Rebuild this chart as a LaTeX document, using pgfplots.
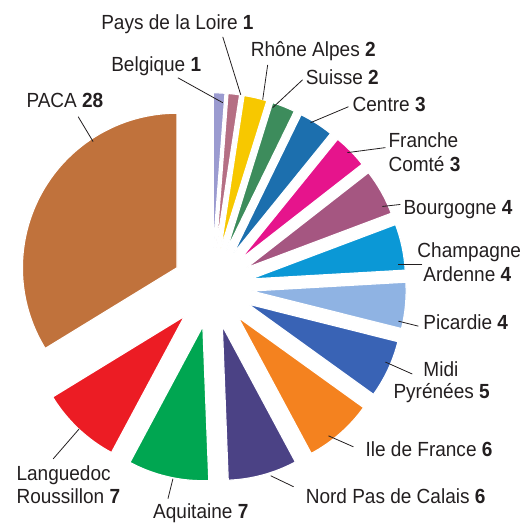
\documentclass[border=0pt]{standalone}
\usepackage{pgfplots}
\pgfplotsset{compat=1.18}
\usepackage{pgfplotstable}
\usepackage{fontspec}
\setmainfont{Liberation Sans}[FakeStretch=0.93]
\usetikzlibrary{calc}
\definecolor{cBel}{HTML}{9B9BD0}
\definecolor{cPdl}{HTML}{B56F84}
\definecolor{cRha}{HTML}{F7C800}
\definecolor{cSui}{HTML}{3D8C5C}
\definecolor{cCen}{HTML}{1C6FAE}
\definecolor{cFra}{HTML}{E6148C}
\definecolor{cBou}{HTML}{A55681}
\definecolor{cCha}{HTML}{0B98D6}
\definecolor{cPic}{HTML}{8FB3E3}
\definecolor{cMid}{HTML}{3963B5}
\definecolor{cIdf}{HTML}{F4821F}
\definecolor{cNor}{HTML}{4B4285}
\definecolor{cAqu}{HTML}{00A651}
\definecolor{cLan}{HTML}{EC1C24}
\definecolor{cPac}{HTML}{C0723C}
\definecolor{txt}{HTML}{231F20}
\pgfplotstableread[col sep=comma]{
name,value,col
Belgique,1,cBel
Pays de la Loire,1,cPdl
Rhône Alpes,2,cRha
Suisse,2,cSui
Centre,3,cCen
Franche Comté,3,cFra
Bourgogne,4,cBou
Champagne Ardenne,4,cCha
Picardie,4,cPic
Midi Pyrénées,5,cMid
Ile de France,6,cIdf
Nord Pas de Calais,6,cNor
Aquitaine,7,cAqu
Languedoc Roussillon,7,cLan
PACA,28,cPac
}\piedata
\begin{document}
\begin{tikzpicture}[lab/.style={anchor=base west, inner sep=0pt, font=\fontsize{20.5}{24}\selectfont, text=txt}]
\begin{axis}[x=1pt, y=1pt, xmin=0, xmax=520, ymin=0, ymax=525, y dir=reverse,
  hide axis, clip=false, scale only axis]
\path (axis cs:0,0) rectangle (axis cs:520,525);
\pgfplotsextra{
  \pgfplotstablegetrowsof{\piedata}\pgfmathtruncatemacro{\pieN}{\pgfplotsretval-1}
  \gdef\pieTot{0}
  \foreach \i in {0,...,\pieN}{%
    \pgfplotstablegetelem{\i}{value}\of\piedata
    \pgfmathsetmacro{\pieT}{\pieTot+\pgfplotsretval}\xdef\pieTot{\pieT}}
  \gdef\pieA{90}
  \foreach \i in {0,...,\pieN}{%
    \pgfplotstablegetelem{\i}{value}\of\piedata \edef\pieV{\pgfplotsretval}
    \pgfplotstablegetelem{\i}{col}\of\piedata \edef\pieC{\pgfplotsretval}
    \pgfmathsetmacro{\pieB}{\pieA-\pieV/\pieTot*360}
    \pgfmathsetmacro{\pieM}{(\pieA+\pieB)/2}
    \fill[\pieC, draw=white, line width=1.2pt] ($(axis cs:206,288)+(\pieM:40pt)$) -- ++(\pieA:155pt)
      arc[start angle=\pieA, end angle=\pieB, radius=155pt] -- cycle;
    \xdef\pieA{\pieB}
  }
}
\begin{scope}[line width=0.8pt, txt]
\draw (axis cs:217,37) -- (axis cs:235,95);
\draw (axis cs:172,78) -- (axis cs:217,103);
\draw (axis cs:262,65) -- (axis cs:257,100);
\draw (axis cs:297,80) -- (axis cs:267,108);
\draw (axis cs:343,107) -- (axis cs:305,123);
\draw (axis cs:380,148) -- (axis cs:342,153);
\draw (axis cs:395,205) -- (axis cs:377,207);
\draw (axis cs:417,265) -- (axis cs:393,265);
\draw (axis cs:413,327) -- (axis cs:393,322);
\draw (axis cs:407,375) -- (axis cs:380,363);
\draw (axis cs:348,448) -- (axis cs:323,437);
\draw (axis cs:288,488) -- (axis cs:265,477);
\draw (axis cs:162,500) -- (axis cs:167,480);
\draw (axis cs:47,460) -- (axis cs:73,430);
\draw (axis cs:72,117) -- (axis cs:87,142);
\end{scope}
\node[lab] at (axis cs:95,30) {Pays de la Loire \textbf{1}};
\node[lab] at (axis cs:105,72) {Belgique \textbf{1}};
\node[lab] at (axis cs:245,57) {Rhône Alpes \textbf{2}};
\node[lab] at (axis cs:300,85) {Suisse \textbf{2}};
\node[lab] at (axis cs:347,112) {Centre \textbf{3}};
\node[lab] at (axis cs:383,148) {Franche};
\node[lab] at (axis cs:383,172) {Comté \textbf{3}};
\node[lab] at (axis cs:398,215) {Bourgogne \textbf{4}};
\node[lab] at (axis cs:412,258) {Champagne};
\node[lab] at (axis cs:418,282) {Ardenne \textbf{4}};
\node[lab] at (axis cs:418,330) {Picardie \textbf{4}};
\node[lab] at (axis cs:418,377) {Midi};
\node[lab] at (axis cs:388,400) {Pyrénées \textbf{5}};
\node[lab] at (axis cs:360,458) {Ile de France \textbf{6}};
\node[lab] at (axis cs:300,505) {Nord Pas de Calais \textbf{6}};
\node[lab] at (axis cs:147,520) {Aquitaine \textbf{7}};
\node[lab] at (axis cs:10,482) {Languedoc};
\node[lab] at (axis cs:10,505) {Roussillon \textbf{7}};
\node[lab] at (axis cs:20,108) {PACA \textbf{28}};
\end{axis}
\end{tikzpicture}
\end{document}
